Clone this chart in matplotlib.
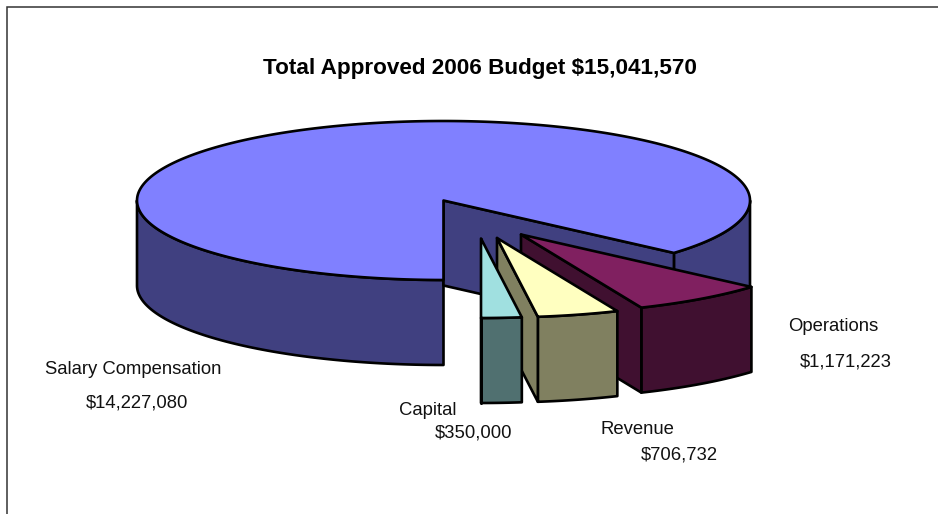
import numpy as np
import matplotlib
matplotlib.use("Agg")
import matplotlib.pyplot as plt
from matplotlib.patches import Polygon, Rectangle

plt.rcParams['font.family'] = ['Liberation Sans', 'DejaVu Sans']

# budget figures, in the order the slices run clockwise from six o'clock
names = ["Salary Compensation", "Operations", "Revenue", "Capital"]
values = [14227080, 1171223, 706732, 350000]
value_labels = ["$14,227,080", "$1,171,223", "$706,732", "$350,000"]
title = "Total Approved 2006 Budget $15,041,570"

top_colors = ["#8080FF", "#802060", "#FFFFC0", "#A0E0E0"]
side_colors = ["#404080", "#401030", "#808060", "#507070"]

# how far each slice is pulled out of the pie
explode_x = [0, 77.5, 53.5, 37.5]
explode_y = [0, 34, 37.5, 38]

# label baselines, pixel coordinates
name_pos = [(45, 374.5), (788, 331), (600, 434), (399.5, 415)]
value_pos = [(86, 408), (800, 366.5), (641, 460), (435, 438)]

cx, cy = 443.5, 200.5
rx, ry = 306.5, 79.5
depth = 85
lw = 1.9


def ell(theta, ox, oy):
    t = np.radians(theta)
    return cx + ox + rx * np.cos(t), cy + oy - ry * np.sin(t)


def draw_slice(ax, lo, hi, ox, oy, top, side, z):
    # outer wall, only the part of the rim that faces the viewer
    for a, b in [(180, 360), (-180, 0)]:
        s, e = max(lo, a), min(hi, b)
        if e > s:
            th = np.linspace(s, e, 120)
            x, y = ell(th, ox, oy)
            pts = np.r_[np.c_[x, y], np.c_[x, y + depth][::-1]]
            ax.add_patch(Polygon(pts, fc=side, ec="black", lw=lw, joinstyle="round", zorder=z))

    # cut face along the low-angle edge
    x0, y0 = ell(lo, ox, oy)
    px, py = cx + ox, cy + oy
    wall = [(px, py), (x0, y0), (x0, y0 + depth), (px, py + depth)]
    ax.add_patch(Polygon(wall, fc=side, ec="black", lw=lw, joinstyle="round", zorder=z + 0.1))

    # top face
    th = np.linspace(lo, hi, 400)
    x, y = ell(th, ox, oy)
    pts = np.r_[[(px, py)], np.c_[x, y]]
    ax.add_patch(Polygon(pts, fc=top, ec="black", lw=lw, joinstyle="round", zorder=z + 0.2))


fig = plt.figure(figsize=(9.38, 5.14), dpi=100)
ax = fig.add_axes([0, 0, 1, 1])
ax.set_xlim(0, 938)
ax.set_ylim(514, 0)
ax.axis("off")

# outer chart border, runs off the right and bottom of the image
ax.add_patch(Rectangle((7, 7), 1000, 600, fc="white", ec="#333333", lw=1.1, zorder=0))

sweeps = np.array(values) / sum(values) * 360
hi = 270.0  # six o'clock, walking clockwise
for i in range(len(values)):
    lo = hi - sweeps[i]
    draw_slice(ax, lo, hi, explode_x[i], explode_y[i], top_colors[i], side_colors[i], 2 + i)
    hi = lo

ax.text(479.5, 74.3, title, ha="center", va="baseline", fontsize=16.2, fontweight="bold", color="black", zorder=20)
for i in range(len(names)):
    ax.text(name_pos[i][0], name_pos[i][1], names[i], ha="left", va="baseline", fontsize=13.3, color="#111111", zorder=20)
    ax.text(value_pos[i][0], value_pos[i][1], value_labels[i], ha="left", va="baseline", fontsize=13.3, color="#111111", zorder=20)

fig.savefig("out.png", dpi=100)
